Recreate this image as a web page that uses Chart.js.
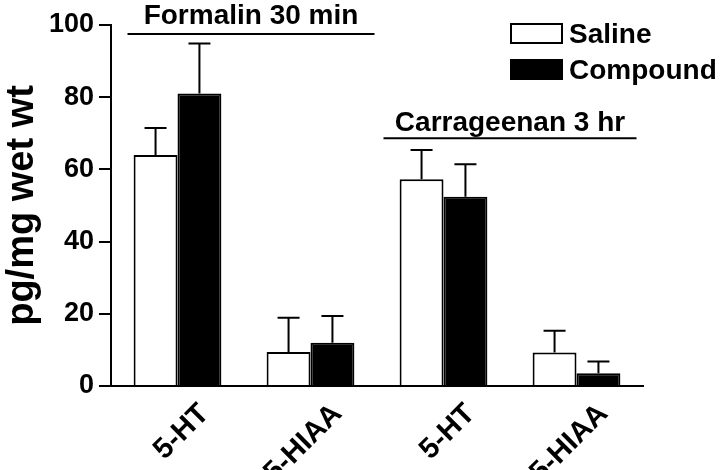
<!DOCTYPE html>
<html>
<head>
<meta charset="utf-8">
<script src="https://cdn.jsdelivr.net/npm/chart.js@4"></script>
<style>
  html, body { margin: 0; padding: 0; background: #fff; }
  #wrap { width: 720px; height: 470px; }
</style>
</head>
<body>
<div id="wrap"><canvas id="chart" width="720" height="470"></canvas></div>
<script>
// values
const categories = ['5-HT', '5-HIAA', '5-HT', '5-HIAA'];
const salineMean = [64.0, 9.4, 57.3, 9.3];
const salineSem = [7.5, 9.5, 8.1, 6.0];
const compoundMean = [81.0, 12.0, 52.4, 3.5];
const compoundSem = [13.9, 7.4, 9.0, 3.3];
const yTicks = [0, 20, 40, 60, 80, 100];
const groupLabels = ['Formalin 30 min', 'Carrageenan 3 hr'];

const FONT = "'Liberation Sans', Arial, sans-serif";

// error bars (upper SEM only, like the original)
const errorBars = {
    id: 'errorBars',
    afterDatasetsDraw(chart) {
        const ctx = chart.ctx;
        const y = chart.scales.y;
        ctx.save();
        ctx.strokeStyle = '#000';
        ctx.lineWidth = 2;
        chart.data.datasets.forEach((ds, di) => {
            const meta = chart.getDatasetMeta(di);
            meta.data.forEach((bar, i) => {
                const top = y.getPixelForValue(ds.data[i] + ds.sem[i]);
                ctx.beginPath();
                ctx.moveTo(bar.x, bar.y);
                ctx.lineTo(bar.x, top);
                ctx.moveTo(bar.x - 11, top);
                ctx.lineTo(bar.x + 11, top);
                ctx.stroke();
            });
        });
        ctx.restore();
    }
};

// treatment headings with a rule under them
const groupHeads = {
    id: 'groupHeads',
    afterDraw(chart, args, opts) {
        const ctx = chart.ctx;
        const x = chart.scales.x;
        const y = chart.scales.y;
        ctx.save();
        opts.items.forEach(g => {
            const x0 = x.getPixelForValue(g.first) + g.padL;
            const x1 = x.getPixelForValue(g.last) + g.padR;
            const ly = y.getPixelForValue(g.level);
            ctx.strokeStyle = '#000';
            ctx.lineWidth = 2;
            ctx.beginPath();
            ctx.moveTo(x0, ly);
            ctx.lineTo(x1, ly);
            ctx.stroke();
            ctx.fillStyle = '#000';
            ctx.font = 'bold 28px ' + FONT;
            ctx.textAlign = 'center';
            ctx.textBaseline = 'alphabetic';
            ctx.fillText(g.label, (x0 + x1) / 2, ly - g.gap);
        });
        ctx.restore();
    }
};

// legend box in the top right corner
const boxLegend = {
    id: 'boxLegend',
    afterDraw(chart) {
        const ctx = chart.ctx;
        ctx.save();
        chart.data.datasets.forEach((ds, i) => {
            const bx = 511, by = 24 + i * 36;
            ctx.fillStyle = ds.backgroundColor;
            ctx.fillRect(bx, by, 51, 19);
            ctx.strokeStyle = '#000';
            ctx.lineWidth = 2;
            ctx.strokeRect(bx, by, 51, 19);
            ctx.fillStyle = '#000';
            ctx.font = 'bold 28px ' + FONT;
            ctx.textAlign = 'left';
            ctx.textBaseline = 'middle';
            ctx.fillText(ds.label, 569, by + 11);
        });
        ctx.restore();
    }
};

new Chart(document.getElementById('chart'), {
    type: 'bar',
    data: {
        labels: categories,
        datasets: [
            {
                label: 'Saline',
                data: salineMean,
                sem: salineSem,
                backgroundColor: '#ffffff',
                borderColor: '#000000',
                borderWidth: 2
            },
            {
                label: 'Compound',
                data: compoundMean,
                sem: compoundSem,
                backgroundColor: '#000000',
                borderColor: '#000000',
                borderWidth: 2
            }
        ]
    },
    options: {
        responsive: false,
        animation: false,
        devicePixelRatio: 1,
        datasets: {
            bar: { categoryPercentage: 0.66, barPercentage: 1.0 }
        },
        layout: { padding: { top: 25, right: 77, bottom: 0, left: 0 } },
        plugins: {
            legend: { display: false },
            tooltip: { enabled: false },
            groupHeads: {
                items: [
                    { label: groupLabels[0], first: 0, last: 1, level: 97.5, padL: -50, padR: 64, gap: 10 },
                    { label: groupLabels[1], first: 2, last: 3, level: 68.6, padL: -60, padR: 60, gap: 7 }
                ]
            }
        },
        scales: {
            x: {
                z: 1,
                grid: { display: false },
                border: { display: true, color: '#000', width: 2 },
                ticks: {
                    color: '#000',
                    font: { family: FONT, size: 29, weight: 'bold' },
                    minRotation: 45,
                    maxRotation: 45,
                    labelOffset: 27,
                    padding: 3
                },
                afterFit(scale) { scale.height = 84; }
            },
            y: {
                min: 0,
                max: 100,
                afterBuildTicks(scale) { scale.ticks = yTicks.map(v => ({ value: v })); },
                grid: {
                    display: true,
                    drawOnChartArea: false,
                    drawTicks: true,
                    tickLength: 12,
                    color: '#000',
                    lineWidth: 2
                },
                border: { display: true, color: '#000', width: 2 },
                ticks: {
                    color: '#000',
                    font: { family: FONT, size: 27, weight: 'bold' },
                    padding: 5
                },
                title: {
                    display: true,
                    text: 'pg/mg wet wt',
                    color: '#000',
                    font: { family: FONT, size: 38, weight: 'bold' },
                    padding: { top: 0, bottom: 0 }
                },
                afterFit(scale) { scale.width = 111; }
            }
        }
    },
    plugins: [errorBars, groupHeads, boxLegend]
});
</script>
</body>
</html>
